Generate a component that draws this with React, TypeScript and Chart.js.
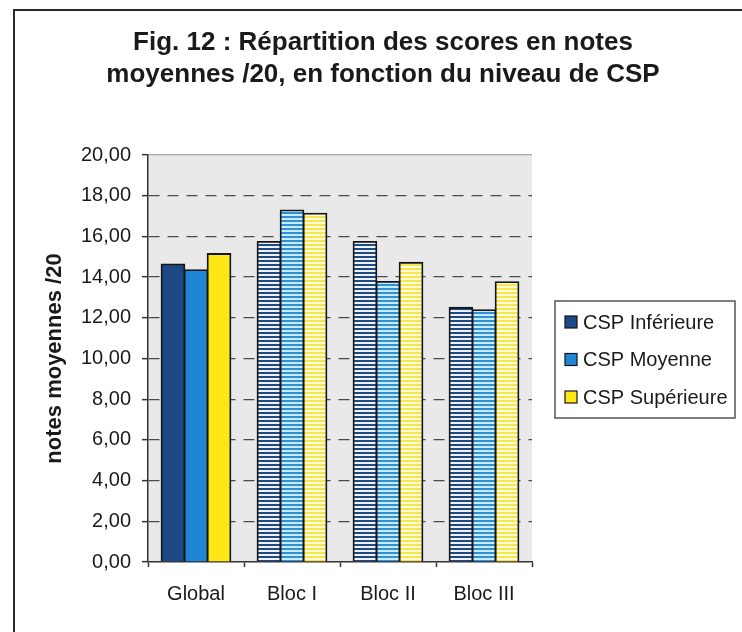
import React, { useEffect, useRef } from 'react';
import { Chart, registerables } from 'chart.js';

Chart.register(...registerables);

// ---- data ----
const categories = ['Global', 'Bloc I', 'Bloc II', 'Bloc III'];
const seriesLabels = ['CSP Inférieure', 'CSP Moyenne', 'CSP Supérieure'];
const cspInferieure = [14.63, 15.74, 15.74, 12.5];
const cspMoyenne = [14.35, 17.28, 13.77, 12.38];
const cspSuperieure = [15.14, 17.12, 14.71, 13.76];
const yTickLabels = ['0,00', '2,00', '4,00', '6,00', '8,00', '10,00', '12,00', '14,00', '16,00', '18,00', '20,00'];
const titleLines = ['Fig. 12 : Répartition des scores en notes', 'moyennes /20, en fonction du niveau de CSP'];
const yAxisTitle = 'notes moyennes /20';

// ---- styles ----
const FONT = "'Liberation Sans', Arial, Helvetica, sans-serif";
const TEXT = '#1a1a1a';
const solidColors = ['#1d4a86', '#1f86d6', '#ffe617'];
const stripeColors: [string, string][] = [
  ['#1d4a86', '#eef2f8'],
  ['#2e8fd8', '#c9ecff'],
  ['#f4e650', '#fdfbd6'],
];

function stripe(ctx: CanvasRenderingContext2D, fg: string, bg: string) {
  const c = document.createElement('canvas');
  c.width = 4;
  c.height = 4;
  const g = c.getContext('2d')!;
  g.fillStyle = bg;
  g.fillRect(0, 0, 4, 4);
  g.fillStyle = fg;
  g.fillRect(0, 0, 4, 2);
  return ctx.createPattern(c, 'repeat') as CanvasPattern;
}

const decorPlugin = {
  id: 'decor',
  beforeDraw(chart: any) {
    const { ctx, chartArea: a, width, height } = chart;
    ctx.save();
    ctx.fillStyle = '#ffffff';
    ctx.fillRect(0, 0, width, height);
    // plot background
    ctx.fillStyle = '#e9e9e9';
    ctx.fillRect(a.left, a.top, a.right - a.left, a.bottom - a.top);
    // outer frame
    ctx.strokeStyle = '#2a2a2a';
    ctx.lineWidth = 2;
    ctx.beginPath();
    ctx.moveTo(14, height + 2);
    ctx.lineTo(14, 10);
    ctx.lineTo(width + 2, 10);
    ctx.stroke();
    ctx.restore();
  },
  afterDraw(chart: any) {
    const { ctx } = chart;
    const box = { x: 555, y: 301, w: 180, h: 117 };
    ctx.save();
    ctx.strokeStyle = '#555';
    ctx.lineWidth = 1.5;
    ctx.strokeRect(box.x, box.y, box.w, box.h);
    ctx.font = `20px ${FONT}`;
    ctx.textBaseline = 'middle';
    ctx.textAlign = 'left';
    chart.data.datasets.forEach((ds: any, i: number) => {
      const cy = 322 + i * 37.5;
      ctx.fillStyle = solidColors[i];
      ctx.fillRect(565, cy - 6, 12, 12);
      ctx.strokeStyle = '#151515';
      ctx.lineWidth = 1.2;
      ctx.strokeRect(565, cy - 6, 12, 12);
      ctx.fillStyle = TEXT;
      ctx.fillText(ds.label, 583, cy + 1);
    });
    ctx.restore();
  },
};

export default function App() {
  const ref = useRef<HTMLCanvasElement>(null);

  useEffect(() => {
    const canvas = ref.current!;
    const ctx = canvas.getContext('2d')!;
    Chart.defaults.font.family = FONT;
    Chart.defaults.color = TEXT;

    const series = [cspInferieure, cspMoyenne, cspSuperieure];
    const datasets = series.map((vals, i) => ({
      label: seriesLabels[i],
      data: vals,
      backgroundColor: vals.map((_, j) =>
        j === 0 ? solidColors[i] : stripe(ctx, stripeColors[i][0], stripeColors[i][1])
      ),
      borderColor: '#151515',
      borderWidth: 1.8,
      inflateAmount: 0.8,
      categoryPercentage: 0.72,
      barPercentage: 1,
    }));

    const chart = new Chart(canvas, {
      type: 'bar',
      data: { labels: categories, datasets },
      options: {
        responsive: false,
        animation: false,
        layout: { padding: { left: 0, right: 0, top: 0, bottom: 30 } },
        plugins: {
          legend: { display: false },
          tooltip: { enabled: false },
          title: {
            display: true,
            text: titleLines,
            color: TEXT,
            font: { size: 26, weight: 'bold', family: FONT, lineHeight: 32 / 26 },
            padding: { top: 27, bottom: 64 },
          },
        },
        scales: {
          x: {
            offset: true,
            grid: {
              display: true,
              drawOnChartArea: false,
              drawTicks: true,
              tickLength: 5,
              color: '#333',
              tickColor: '#333',
              tickWidth: 1.5,
              offset: true,
            },
            border: { display: true, color: '#333', width: 1.5 },
            ticks: {
              font: { size: 20, family: FONT },
              color: TEXT,
              padding: 15,
              maxRotation: 0,
              autoSkip: false,
            },
            afterFit: (s: any) => {
              s.height = 40;
            },
          },
          y: {
            min: 0,
            max: 20,
            ticks: {
              stepSize: 2,
              font: { size: 20, family: FONT },
              color: TEXT,
              padding: 11,
              callback: (_v: any, i: number) => yTickLabels[i],
            },
            grid: {
              color: (c: any) =>
                c.tick && c.tick.value === 20
                  ? '#a8a8a8'
                  : c.tick && c.tick.value === 0
                  ? 'rgba(0,0,0,0)'
                  : '#4a4a4a',
              lineWidth: 1.3,
              drawTicks: true,
              tickLength: 6,
              tickColor: '#333',
              tickWidth: 1.5,
            },
            border: {
              display: true,
              color: '#333',
              width: 1.5,
              dash: (c: any) => (c.tick && c.tick.value !== 20 ? [11, 8] : []),
            },
            title: {
              display: true,
              text: yAxisTitle,
              color: TEXT,
              font: { size: 22, weight: 'bold', family: FONT },
              padding: { top: 42, bottom: 0 },
            },
            afterFit: (s: any) => {
              s.width = 148;
            },
          },
          space: {
            type: 'linear',
            position: 'right',
            display: true,
            grid: { display: false },
            border: { display: false },
            ticks: { display: false },
            afterFit: (s: any) => {
              s.width = 234;
            },
          },
        },
      },
      plugins: [decorPlugin],
    } as any);

    return () => chart.destroy();
  }, []);

  return (
    <div
      style={{
        position: 'fixed',
        left: 0,
        top: 0,
        width: 742,
        height: 632,
        overflow: 'hidden',
        background: '#fff',
      }}
    >
      <canvas ref={ref} width={766} height={632} style={{ display: 'block', width: 766, height: 632 }} />
    </div>
  );
}
